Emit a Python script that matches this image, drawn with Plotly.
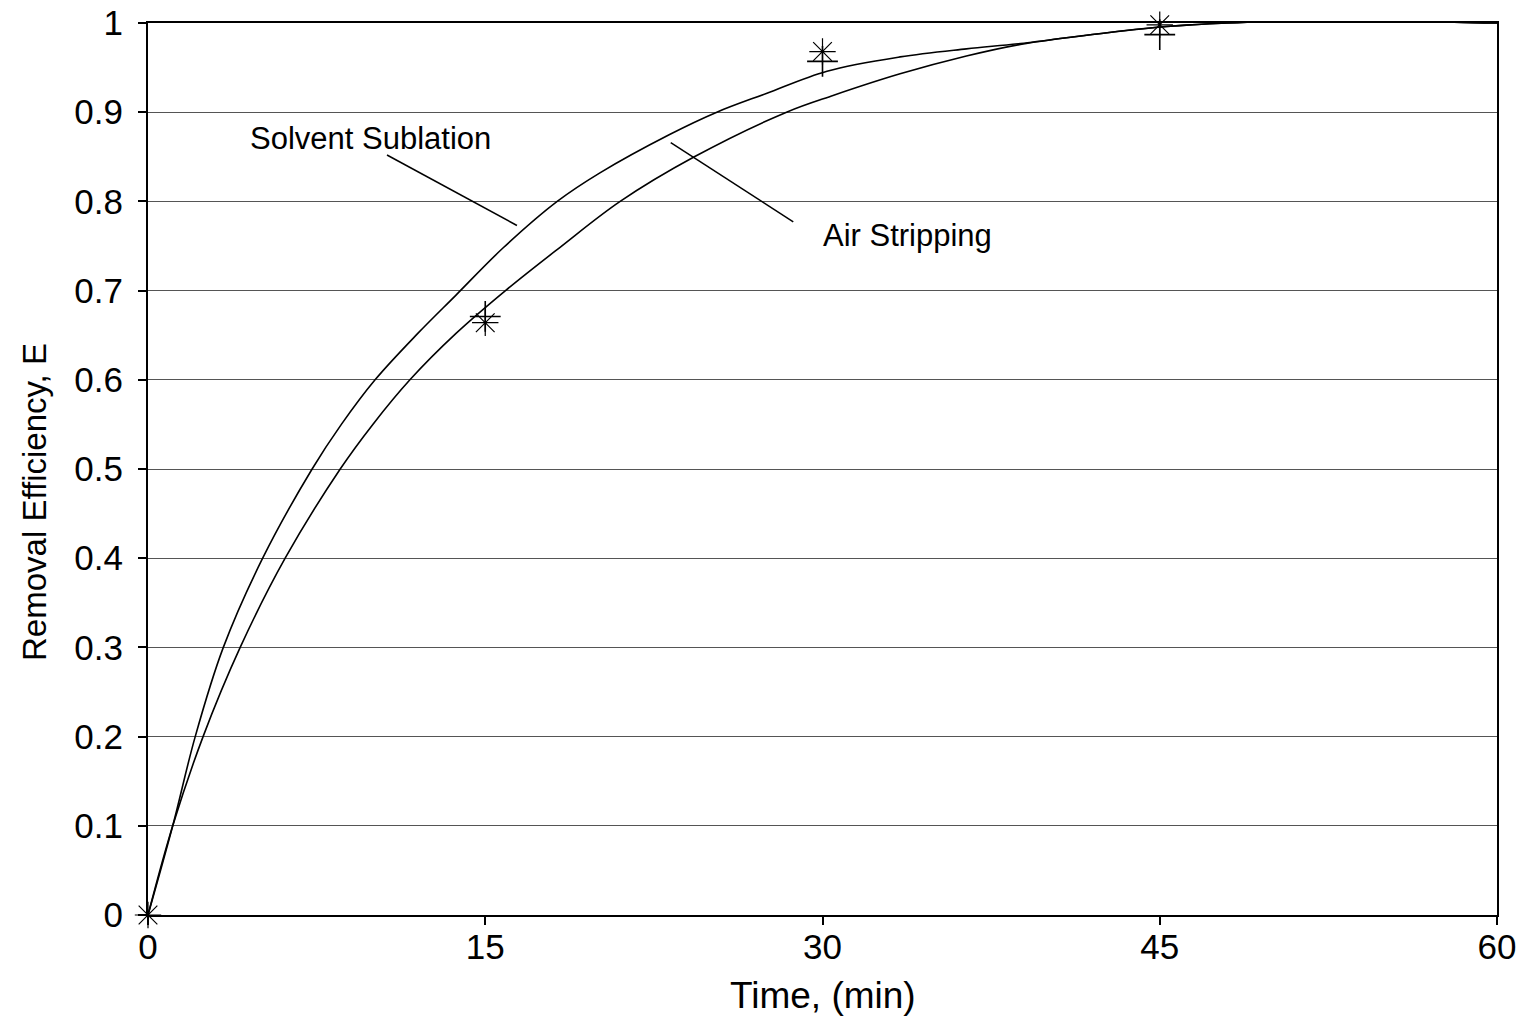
import plotly.graph_objects as go

# Fitted curves
t_sublation = [0, 1.1, 2.1, 3.35, 5.1, 7.3, 8.6, 10.1, 12.0, 13.7, 15.8, 18.2, 20.1, 23.2, 25.3, 27.5, 30.2, 33.45, 36.4, 38.8, 42.3, 45.3, 48, 52, 56, 58, 60]
e_sublation = [0, 0.10, 0.20, 0.30, 0.40, 0.50, 0.55, 0.60, 0.652, 0.695, 0.748, 0.80, 0.832, 0.875, 0.90, 0.921, 0.946, 0.962, 0.971, 0.977, 0.988, 0.996, 1.0, 1.003, 1.004, 1.001, 1.0]

t_stripping = [0, 1.1, 2.45, 4.1, 6.1, 8.55, 10.0, 11.65, 13.7, 15.9, 18.3, 21.0, 24.3, 28.4, 30.5, 33.45, 36.4, 38.8, 42.3, 45.3, 48, 52, 56, 58, 60]
e_stripping = [0, 0.10, 0.20, 0.30, 0.40, 0.50, 0.55, 0.60, 0.652, 0.70, 0.748, 0.80, 0.850, 0.90, 0.919, 0.943, 0.963, 0.976, 0.988, 0.996, 1.0, 1.003, 1.004, 1.001, 1.0]

# Experimental points
t_obs = [0, 15, 30, 45]
e_obs_asterisk = [0, 0.664, 0.968, 0.998]
t_obs_plus = [15, 30, 45]
e_obs_plus = [0.671, 0.957, 0.987]

x_ticks = [0, 15, 30, 45, 60]
y_ticks = [0, 0.1, 0.2, 0.3, 0.4, 0.5, 0.6, 0.7, 0.8, 0.9, 1]
y_tick_text = ["0", "0.1", "0.2", "0.3", "0.4", "0.5", "0.6", "0.7", "0.8", "0.9", "1"]

FONT = "Liberation Sans, Arial, sans-serif"

fig = go.Figure()
for tx, ey in ((t_sublation, e_sublation), (t_stripping, e_stripping)):
    fig.add_trace(go.Scatter(x=tx, y=ey, mode="lines",
                             line=dict(color="black", width=1.6, shape="spline", smoothing=1.0),
                             cliponaxis=False, showlegend=False))
fig.add_trace(go.Scatter(x=t_obs, y=e_obs_asterisk, mode="markers",
                         marker=dict(symbol="asterisk-open", size=22, color="black", line=dict(color="black", width=1.2)),
                         cliponaxis=False, showlegend=False))
fig.add_trace(go.Scatter(x=t_obs_plus, y=e_obs_plus, mode="markers",
                         marker=dict(symbol="cross-thin-open", size=22, color="black", line=dict(color="black", width=1.6)),
                         cliponaxis=False, showlegend=False))

# Labels with leader lines
fig.add_annotation(x=(370 - 148) / 22.48, y=(915 - 139) / 891.7, text="Solvent Sublation", showarrow=False,
                   font=dict(family=FONT, size=31, color="black"), xanchor="center", yanchor="middle")
fig.add_shape(type="line", x0=10.63, y0=0.852, x1=16.41, y1=0.773, line=dict(color="black", width=1.5))
fig.add_annotation(x=(907 - 148) / 22.48, y=(915 - 236) / 891.7, text="Air Stripping", showarrow=False,
                   font=dict(family=FONT, size=31, color="black"), xanchor="center", yanchor="middle")
fig.add_shape(type="line", x0=23.25, y0=0.866, x1=28.7, y1=0.777, line=dict(color="black", width=1.5))

# Axis titles
fig.add_annotation(xref="paper", yref="paper", x=(35 - 148) / 1349, y=(915 - 502) / 892, text="Removal Efficiency, E",
                   textangle=-90, showarrow=False, font=dict(family=FONT, size=33, color="black"),
                   xanchor="center", yanchor="middle")
fig.add_annotation(xref="paper", yref="paper", x=0.5, y=-(995 - 915) / 892, text="Time, (min)",
                   showarrow=False, font=dict(family=FONT, size=37, color="black"),
                   xanchor="center", yanchor="middle")

fig.update_layout(
    width=1530, height=1019,
    margin=dict(l=148, r=33, t=23, b=104, autoexpand=False),
    paper_bgcolor="white", plot_bgcolor="white",
    font=dict(family=FONT, size=34, color="black"),
    xaxis=dict(range=[0, 60], tickvals=x_ticks, ticks="outside", ticklen=8, tickwidth=1.5, tickcolor="black",
               showline=True, linecolor="black", linewidth=2, mirror=True, showgrid=False, zeroline=False,
               automargin=False, ticklabelstandoff=-8, tickfont=dict(size=35)),
    yaxis=dict(range=[0, 1], tickvals=y_ticks, ticktext=y_tick_text, ticks="outside", ticklen=8, tickwidth=1.5, tickcolor="black",
               showline=True, linecolor="black", linewidth=2, mirror=True,
               showgrid=True, gridcolor="#555555", gridwidth=1, zeroline=False,
               automargin=False, ticklabelstandoff=8, tickfont=dict(size=35)),
)

fig.write_html("out.html")
